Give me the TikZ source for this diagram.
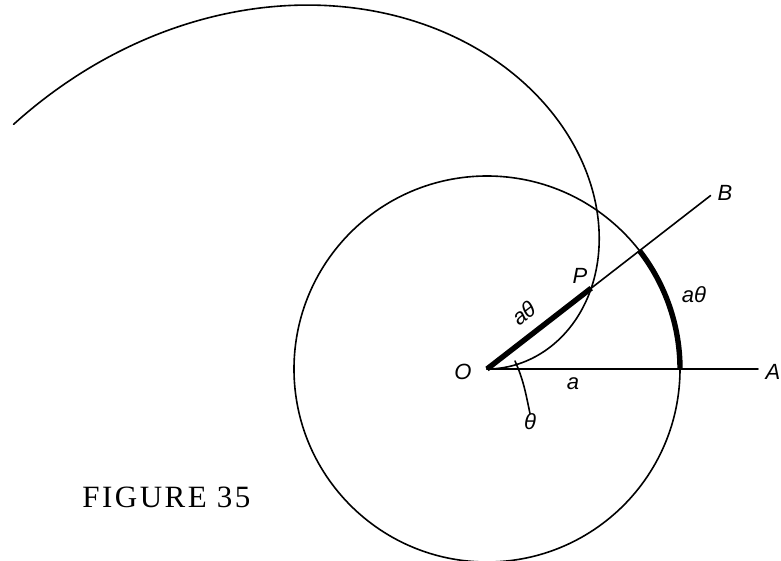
\documentclass[tikz,border=0pt]{standalone}
\usepackage{fontspec}
\setsansfont{Liberation Sans}
\newfontfamily\capfont[LetterSpace=8]{Liberation Serif}
\usetikzlibrary{calc,arrows.meta}

\begin{document}
\begin{tikzpicture}[x=0.5pt, y=0.5pt, line cap=round, line join=round, >=stealth,
    lbl/.style={font=\sffamily\itshape\fontsize{11}{13}\selectfont, inner sep=0pt},
    thinline/.style={line width=0.8pt},
    heavy/.style={line width=2.7pt, line cap=butt}]
    \useasboundingbox (-487,-192) rectangle (294,369);

    % A pontok: O a középpont, a szög 37.8 fok
    \coordinate (O) at (0,0);
    \coordinate (A) at (271,0);
    \coordinate (B) at (37.8:283);
    \coordinate (P) at (37.8:131.9);
    \coordinate (Ac) at (193,0);
    \coordinate (Bc) at (37.8:193);

    % Az a sugarú kör
    \draw[thinline] (O) circle[radius=193];

    % Az arkhimédészi spirál, r = a*theta
    \draw[thinline] plot[domain=0:2.665, samples=150, variable=\t, smooth] ({deg(\t)}:{200*\t});

    % Félegyenesek O-ból
    \draw[thinline] (O) -- (A);
    \draw[thinline] (O) -- (B);

    % Vastag szakasz és vastag ív, mindkettő a*theta hosszú
    \draw[heavy] (O) -- (P);
    \draw[heavy] (Ac) arc[start angle=0, end angle=37.8, radius=193];

    % Feliratok
    \node[lbl] (labO) at (-24,-3) {O};
    \node[lbl] (labP) at (93,93) {P};
    \node[lbl] (labA) at (286,-3) {A};
    \node[lbl] (labB) at (238,176) {B};
    \node[lbl] (laba) at (86,-15) {a};
    \node[lbl, rotate=37.8] (labOP) at (37,56) {aθ};
    \node[lbl] (labarc) at (207,74) {aθ};
    \node[lbl] (labth) at (43,-53) {θ};

    % A theta szöget jelölő kis görbe
    \coordinate (th) at (28,8);
    \draw[thinline] (th) to[out=-66, in=102] (labth.north);

    % Az ábra címe
    \node[anchor=base west, inner sep=0pt, font=\capfont\fontsize{15.5}{17}\selectfont] (fig) at (-405,-139) {FIGURE 35};
\end{tikzpicture}
\end{document}
